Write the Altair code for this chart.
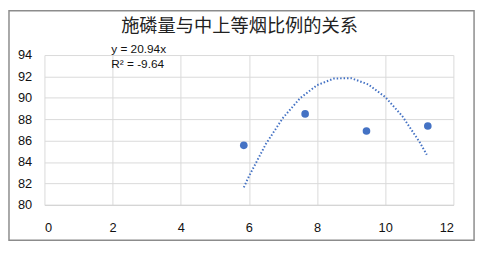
import altair as alt
import pandas as pd

# Scatter points
px = [5.85, 7.65, 9.45, 11.25]
py = [85.56, 88.5, 86.9, 87.37]

# Dotted trend curve
tx = [5.85, 6.0, 6.5, 7.0, 7.5, 8.0, 8.5, 9.0, 9.5, 10.0, 10.5, 11.0, 11.22]
ty = [81.63, 82.66, 85.7, 88.13, 89.96, 91.19, 91.81, 91.84, 91.26, 90.08, 88.3, 85.91, 84.67]

# Trendline annotation
ann_text = ["y = 20.94x", "R² = -9.64"]
ann_x = [1.96, 1.96]
ann_y = [94.52, 93.14]

x_ticks = [0, 2, 4, 6, 8, 10, 12]
y_ticks = [80, 82, 84, 86, 88, 90, 92, 94]

title = "施磷量与中上等烟比例的关系"
blue = "#4472C4"
font = "Liberation Sans"

pts = pd.DataFrame({"x": px, "y": py})
trend = pd.DataFrame({"x": tx, "y": ty})
ann = pd.DataFrame({"t": ann_text, "x": ann_x, "y": ann_y})

xs = alt.Scale(domain=[0, 12], nice=False, zero=False)
ys = alt.Scale(domain=[80, 94], nice=False, zero=False)

xax = alt.Axis(values=x_ticks, title=None, grid=True, gridColor="#d9d9d9",
               domainColor="#d0d0d0", ticks=False, labelPadding=17,
               labelFontSize=13, labelFont=font, labelColor="#111",
               labelOverlap=False)
yax = alt.Axis(values=y_ticks, title=None, grid=True, gridColor="#d9d9d9",
               domain=False, ticks=False, labelPadding=13,
               labelFontSize=13, labelFont=font, labelColor="#111",
               labelOverlap=False)

X = alt.X("x:Q", scale=xs, axis=xax)
Y = alt.Y("y:Q", scale=ys, axis=yax)

frame = alt.Chart(pd.DataFrame({"a": [0]})).mark_rect(
    fill=None, stroke="#8c8c8c", strokeWidth=1.5, clip=False
).encode(
    x=alt.value(-36), x2=alt.value(436),
    y=alt.value(-45), y2=alt.value(188),
)

title_mark = alt.Chart(pd.DataFrame({"t": [title]})).mark_text(
    font="Noto Sans CJK SC", fontSize=18.5, color="#222",
    align="center", baseline="middle"
).encode(text="t:N", x=alt.value(198), y=alt.value(-29))

line = alt.Chart(trend).mark_line(color=blue, strokeWidth=2, strokeDash=[1.5, 2], clip=False).encode(
    x=X, y=Y,
)

base_pts = alt.Chart(pts).mark_circle(size=60, color=blue, opacity=1).encode(
    x=X, y=Y,
)

text = alt.Chart(ann).mark_text(align="left", baseline="middle", fontSize=12,
                                font=font, color="#111").encode(
    x=X, y=Y, text="t:N",
)

chart = alt.layer(line, base_pts, text, frame, title_mark).properties(
    width=415, height=152,
    padding={"left": 37, "top": 46, "right": 25, "bottom": 37},
    autosize=alt.AutoSizeParams(type="none"),
    background="white",
).configure_view(stroke=None)

chart.save("out.html", embed_options={"renderer": "svg", "actions": False})
